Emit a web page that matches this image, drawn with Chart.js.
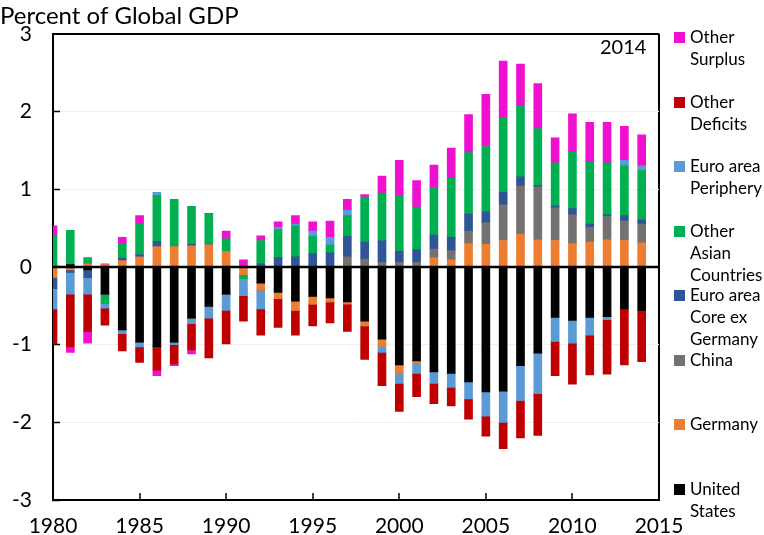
<!DOCTYPE html>
<html>
<head>
<meta charset="utf-8">
<title>Global imbalances</title>
<script src="https://cdn.jsdelivr.net/npm/chart.js@4.4.1/dist/chart.umd.min.js"></script>
<style>
  body { margin: 0; background: #fff; }
  #wrap { position: relative; width: 764px; height: 535px; font-family: Lato, sans-serif; color: #000; }
  #legend { position: absolute; left: 674px; top: 0; }
  .item { position: absolute; left: 0; font-size: 17px; line-height: 22px; white-space: nowrap; }
  .item .sw { position: absolute; left: 0; top: 6px; width: 11px; height: 11px; }
  .item .txt { margin-left: 16px; }
  #note { position: absolute; left: 600px; top: 34px; font-size: 20px; }
</style>
</head>
<body>
<div id="wrap">
  <canvas id="chart"></canvas>
  <div id="note">2014</div>
  <div id="legend"></div>
</div>
<script>
// Data (percent of global GDP)
const years = [1980, 1981, 1982, 1983, 1984, 1985, 1986, 1987, 1988, 1989,
  1990, 1991, 1992, 1993, 1994, 1995, 1996, 1997, 1998, 1999,
  2000, 2001, 2002, 2003, 2004, 2005, 2006, 2007, 2008, 2009,
  2010, 2011, 2012, 2013, 2014];

const unitedStates = [0, 0.03, -0.04, -0.35, -0.81, -0.97, -1.03, -0.97, -0.66, -0.51,
  -0.35, 0, -0.21, -0.33, -0.44, -0.38, -0.40, -0.45, -0.70, -0.93,
  -1.26, -1.21, -1.35, -1.37, -1.48, -1.61, -1.60, -1.27, -1.11, -0.65,
  -0.69, -0.65, -0.64, -0.54, -0.56];
const germany = [-0.14, -0.04, 0.04, 0.03, 0.08, 0.13, 0.26, 0.26, 0.27, 0.28,
  0.20, -0.10, -0.09, -0.08, -0.12, -0.10, -0.05, -0.03, -0.06, -0.09,
  -0.10, -0.03, 0.12, 0.09, 0.30, 0.29, 0.34, 0.42, 0.35, 0.34,
  0.30, 0.32, 0.35, 0.34, 0.31];
const china = [0, 0, 0, 0, 0, 0, 0, 0, 0, 0.02,
  0, 0, 0, 0, 0, 0, 0, 0.13, 0.10, 0.06,
  0.06, 0.06, 0.11, 0.12, 0.16, 0.28, 0.46, 0.62, 0.68, 0.42,
  0.37, 0.19, 0.30, 0.25, 0.24];
const euroCore = [-0.14, -0.03, -0.10, 0, 0.03, 0.03, 0.07, 0, 0.02, 0,
  0, 0, 0.04, 0.12, 0.13, 0.17, 0.18, 0.26, 0.22, 0.28,
  0.14, 0.16, 0.18, 0.17, 0.22, 0.14, 0.16, 0.12, 0.02, 0.03,
  0.08, 0.04, 0.02, 0.07, 0.06];
const otherAsian = [0.41, 0.44, 0.08, -0.12, 0.19, 0.40, 0.59, 0.61, 0.49, 0.38,
  0.16, -0.05, 0.30, 0.36, 0.40, 0.22, 0.10, 0.27, 0.58, 0.61,
  0.72, 0.55, 0.61, 0.76, 0.79, 0.84, 0.96, 0.91, 0.73, 0.55,
  0.73, 0.80, 0.67, 0.64, 0.63];
const euroPeriphery = [-0.26, -0.28, -0.21, -0.06, -0.05, -0.06, 0.04, -0.03, -0.07, -0.15,
  -0.21, -0.22, -0.24, 0.03, 0.02, 0.07, 0.10, 0.07, 0, -0.08,
  -0.14, -0.13, -0.15, -0.18, -0.22, -0.31, -0.40, -0.45, -0.52, -0.31,
  -0.29, -0.23, -0.04, 0.07, 0.06];
const otherDeficits = [-0.45, -0.68, -0.48, -0.22, -0.22, -0.20, -0.30, -0.25, -0.34, -0.51,
  -0.43, -0.33, -0.34, -0.37, -0.32, -0.28, -0.27, -0.35, -0.43, -0.43,
  -0.36, -0.30, -0.26, -0.24, -0.26, -0.26, -0.34, -0.48, -0.54, -0.44,
  -0.53, -0.51, -0.70, -0.72, -0.66];
const otherSurplus = [0.12, -0.07, -0.15, 0.01, 0.08, 0.10, -0.07, -0.02, -0.05, 0.01,
  0.10, 0.09, 0.06, 0.07, 0.11, 0.12, 0.21, 0.14, 0.03, 0.22,
  0.45, 0.34, 0.29, 0.39, 0.49, 0.67, 0.73, 0.54, 0.58, 0.32,
  0.49, 0.51, 0.52, 0.44, 0.40];

// stacking order, bottom of the stack first
const series = [
  { label: 'United States', lines: ['United', 'States'], data: unitedStates, color: '#000000' },
  { label: 'Germany', lines: ['Germany'], data: germany, color: '#ED7D31' },
  { label: 'China', lines: ['China'], data: china, color: '#767171' },
  { label: 'Euro area Core ex Germany', lines: ['Euro area', 'Core ex', 'Germany'], data: euroCore, color: '#2F5597' },
  { label: 'Other Asian Countries', lines: ['Other', 'Asian', 'Countries'], data: otherAsian, color: '#00B050' },
  { label: 'Euro area Periphery', lines: ['Euro area', 'Periphery'], data: euroPeriphery, color: '#5B9BD5' },
  { label: 'Other Deficits', lines: ['Other', 'Deficits'], data: otherDeficits, color: '#C00000' },
  { label: 'Other Surplus', lines: ['Other', 'Surplus'], data: otherSurplus, color: '#EF10D0' }
];

// thick zero line drawn over the bars
const zeroLine = {
  id: 'zeroLine',
  afterDatasetsDraw(chart) {
    const { ctx, chartArea, scales } = chart;
    const y = scales.y.getPixelForValue(0);
    ctx.save();
    ctx.strokeStyle = '#000';
    ctx.lineWidth = 2.5;
    ctx.beginPath();
    ctx.moveTo(chartArea.left, y);
    ctx.lineTo(chartArea.right, y);
    ctx.stroke();
    ctx.restore();
  }
};

const tickFont = { family: 'Lato', size: 21 };

new Chart(document.getElementById('chart'), {
  type: 'bar',
  data: {
    labels: years,
    datasets: series.map(s => ({
      label: s.label,
      data: s.data,
      backgroundColor: s.color,
      borderWidth: 0,
      barThickness: 8,
      clip: 0
    }))
  },
  options: {
    responsive: true,
    maintainAspectRatio: false,
    animation: false,
    layout: { padding: { left: 0, right: 105, top: 0, bottom: 0 } },
    plugins: {
      legend: { display: false },
      tooltip: { enabled: false },
      title: {
        display: true,
        text: 'Percent of Global GDP',
        align: 'start',
        color: '#000',
        font: { family: 'Lato', size: 24, weight: 'normal' },
        padding: { top: 2, bottom: 3 }
      }
    },
    scales: {
      x: {
        type: 'linear',
        stacked: true,
        offset: false,
        min: 1980,
        max: 2015,
        ticks: {
          stepSize: 5,
          color: '#000',
          font: tickFont,
          padding: 21,
          callback: v => String(v)
        },
        grid: {
          offset: false,
          color: c => (c.tick && c.tick.value === 2015 ? '#000' : 'rgba(0,0,0,0)'),
          lineWidth: 2,
          tickColor: '#000',
          tickLength: -7,
          tickWidth: 1.5
        },
        border: { color: '#000', width: 2 },
        afterFit: s => { s.height = 35; }
      },
      y: {
        stacked: true,
        min: -3,
        max: 3,
        ticks: {
          stepSize: 1,
          color: '#000',
          font: tickFont,
          padding: 28
        },
        grid: {
          color: c => {
            if (!c.tick) return '#f0f0f0';
            if (c.tick.value === 3) return '#000';
            if (c.tick.value === 0) return 'rgba(0,0,0,0)';
            return '#f0f0f0';
          },
          lineWidth: c => (c.tick && c.tick.value === 3 ? 2 : 1),
          tickColor: '#000',
          tickLength: -7,
          tickWidth: 1.5
        },
        border: { color: '#000', width: 2 },
        afterFit: s => {
          s.width = 53;
          // labels may overhang; keep the plot flush with the title and x axis
          s.paddingTop = 0;
          s.paddingBottom = 0;
        }
      }
    }
  },
  plugins: [zeroLine]
});

// legend on the right, top to bottom in reverse stacking order
const legendEl = document.getElementById('legend');
series.slice().reverse().forEach((s, i) => {
  const item = document.createElement('div');
  item.className = 'item';
  item.style.top = (26 + i * 64.5) + 'px';
  item.innerHTML = '<span class="sw" style="background:' + s.color + '"></span>' +
    '<div class="txt">' + s.lines.join('<br>') + '</div>';
  legendEl.appendChild(item);
});
</script>
</body>
</html>
